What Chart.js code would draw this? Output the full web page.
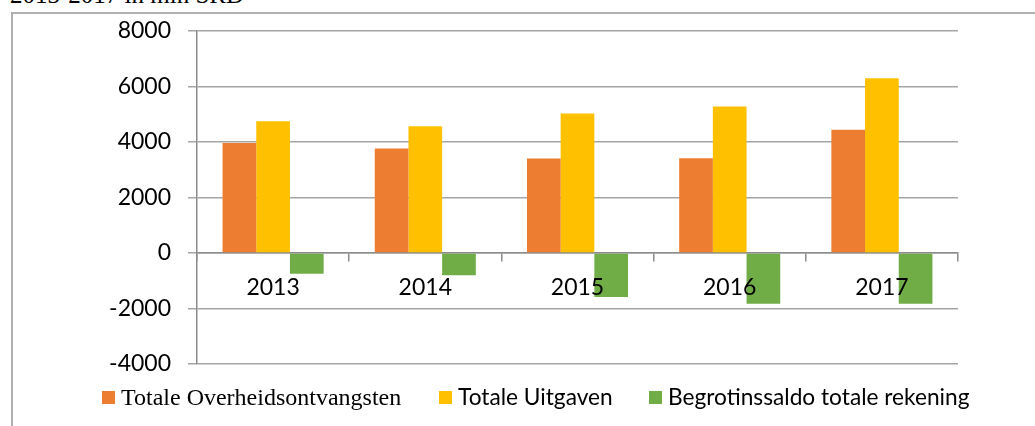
<!DOCTYPE html>
<html>
<head>
<meta charset="utf-8">
<script src="https://cdn.jsdelivr.net/npm/chart.js@4.4.0/dist/chart.umd.min.js"></script>
<style>
  html, body { margin: 0; padding: 0; background: #fff; }
  #wrap { position: relative; width: 1035px; height: 426px; overflow: hidden; }
  #frame { position: absolute; left: 11px; top: 12px; width: 1100px; height: 500px;
           border: 2px solid #b0b0b0; box-sizing: border-box; }
  #title { position: absolute; left: 10px; top: -17px; font: 25px "Liberation Serif";
           line-height: 24px; color: #000; white-space: nowrap; }
  canvas { position: absolute; left: 0; top: 0; }
  .item { position: absolute; top: 385px; height: 24px; line-height: 24px; white-space: nowrap; color: #000; }
  .box { position: absolute; left: 0; top: 6px; width: 13px; height: 13px; }
</style>
</head>
<body>
<div id="wrap">
  <div id="frame"></div>
  <div id="title">2013-2017 in mln SRD</div>
  <canvas id="grafiek" width="1035" height="426"></canvas>
  <div id="legend"></div>
</div>
<script>
// jaren en waarden (mln SRD)
const jaren = ["2013", "2014", "2015", "2016", "2017"];
const ontvangsten = [3960, 3760, 3400, 3410, 4440];
const uitgaven = [4740, 4560, 5020, 5270, 6290];
const saldo = [-750, -800, -1590, -1830, -1830];
const yTicks = [-4000, -2000, 0, 2000, 4000, 6000, 8000];
const reeksNamen = [
  "Totale Overheidsontvangsten",
  "Totale Uitgaven",
  "Begrotinssaldo totale rekening",
];
const kleuren = ["#ED7D31", "#FFC000", "#70AD47"];

var ctx = document.getElementById("grafiek").getContext("2d");
var grafiek = new Chart(ctx, {
  type: "bar",
  data: {
    labels: jaren,
    datasets: [ontvangsten, uitgaven, saldo].map(function (waarden, i) {
      return {
        label: reeksNamen[i],
        data: waarden,
        backgroundColor: kleuren[i],
        borderWidth: 0,
        categoryPercentage: 0.664,
        barPercentage: 1.0,
      };
    }),
  },
  options: {
    responsive: false,
    animation: false,
    layout: { padding: { left: 11, right: 77, top: 30, bottom: 62 } },
    plugins: {
      legend: { display: false },
      tooltip: { enabled: false },
    },
    scales: {
      x: {
        position: { y: 0 },
        grid: {
          drawOnChartArea: false,
          offset: true,
          tickLength: 8,
          color: "#8c8c8c",
          lineWidth: 1.5,
        },
        border: { color: "#8c8c8c", width: 1.5 },
        ticks: {
          z: 1, // jaartallen over de balken heen, zoals in Excel
          color: "#000",
          font: { family: "Lato", size: 23 },
          padding: 13,
        },
      },
      y: {
        min: -4000,
        max: 8000,
        afterBuildTicks: function (scale) {
          scale.ticks = yTicks.map(function (v) { return { value: v }; });
        },
        afterFit: function (scale) {
          scale.width = 186;
        },
        grid: { color: "#a5a5a5", lineWidth: 1.5, tickLength: 9 },
        border: { color: "#8c8c8c", width: 1.5 },
        ticks: {
          color: "#000",
          font: { family: "Lato", size: 23 },
          padding: 17,
          callback: function (v) { return String(v); },
        },
      },
    },
  },
});

// legenda als html, eerste item in een schreefletter zoals in het origineel
var legendFonts = ['24px "Liberation Serif"', "22.7px Lato", "22.7px Lato"];
var legendLeft = [102, 439, 649];
var legend = document.getElementById("legend");
grafiek.data.datasets.forEach(function (ds, i) {
  var item = document.createElement("div");
  item.className = "item";
  item.style.left = legendLeft[i] + "px";
  item.style.paddingLeft = "19px";
  item.style.font = legendFonts[i];
  item.style.lineHeight = "24px";
  var box = document.createElement("span");
  box.className = "box";
  box.style.background = ds.backgroundColor;
  item.appendChild(box);
  item.appendChild(document.createTextNode(ds.label));
  legend.appendChild(item);
});
</script>
</body>
</html>
